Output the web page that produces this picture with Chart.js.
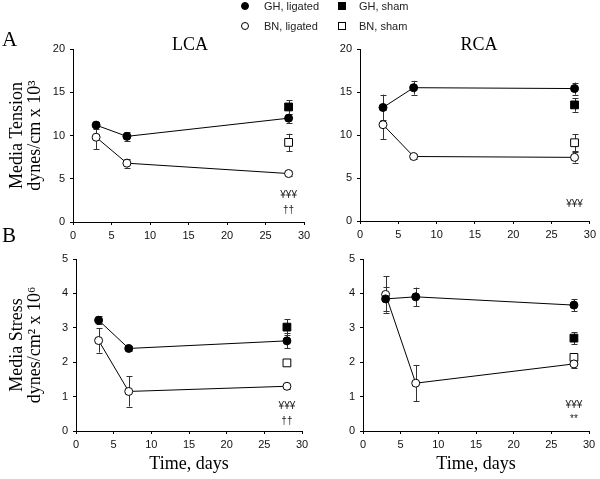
<!DOCTYPE html>
<html>
<head>
<meta charset="utf-8">
<script src="https://cdn.jsdelivr.net/npm/chart.js@4.4.1/dist/chart.umd.min.js"></script>
<style>
  body { margin: 0; background: #fff; }
  #wrap { position: relative; width: 600px; height: 479px; overflow: hidden; }
  #wrap canvas { position: absolute; left: 0; top: 0; }
  .serif { position: absolute; font-family: "Liberation Serif", "Times New Roman", serif; color: #000; line-height: 1; white-space: nowrap; }
  .leg { position: absolute; font-family: "Liberation Sans", Arial, sans-serif; font-size: 11px; color: #222; line-height: 1; white-space: nowrap; }
  .mk { position: absolute; box-sizing: border-box; border: 1px solid #000; }
</style>
</head>
<body>
<div id="wrap">
  <canvas id="aLca" width="600" height="479"></canvas>
  <canvas id="aRca" width="600" height="479"></canvas>
  <canvas id="bLca" width="600" height="479"></canvas>
  <canvas id="bRca" width="600" height="479"></canvas>

  <div class="serif" style="left:2px;top:29px;font-size:21px;">A</div>
  <div class="serif" style="left:2px;top:225px;font-size:21px;">B</div>
  <div class="serif" style="left:172px;top:35px;font-size:18px;width:36px;text-align:center;">LCA</div>
  <div class="serif" style="left:460px;top:35px;font-size:18px;width:38px;text-align:center;">RCA</div>

  <!-- legend -->
  <div class="mk" style="left:241px;top:2px;width:8px;height:8px;border-radius:50%;background:#000;"></div>
  <div class="leg" style="left:264px;top:1px;">GH, ligated</div>
  <div class="mk" style="left:338px;top:2px;width:8px;height:8px;background:#000;"></div>
  <div class="leg" style="left:359px;top:1px;">GH, sham</div>
  <div class="mk" style="left:241px;top:22px;width:8px;height:8px;border-radius:50%;background:#fff;"></div>
  <div class="leg" style="left:264px;top:21px;">BN, ligated</div>
  <div class="mk" style="left:338px;top:22px;width:8px;height:8px;background:#fff;"></div>
  <div class="leg" style="left:359px;top:21px;">BN, sham</div>
</div>

<script>
// time points (days)
const days = [3, 7, 28];
const shamDays = [28];
const xTicks = { min: 0, max: 30, step: 5 };

// A, LCA - media tension (dynes/cm x 10^3)
const lcaTensionGH = [11.2, 9.9, 12.0];
const lcaTensionGHErr = [0.4, 0.5, 0.5];
const lcaTensionBN = [9.8, 6.8, 5.6];
const lcaTensionBNErr = [1.4, 0.5, 0.3];
const lcaTensionGHSham = [13.3];
const lcaTensionGHShamErr = [0.8];
const lcaTensionBNSham = [9.2];
const lcaTensionBNShamErr = [1.0];

// A, RCA - media tension
const rcaTensionGH = [13.2, 15.5, 15.4];
const rcaTensionGHErr = [1.5, 0.8, 0.7];
const rcaTensionBN = [11.2, 7.5, 7.4];
const rcaTensionBNErr = [1.7, 0.3, 0.6];
const rcaTensionGHSham = [13.5];
const rcaTensionGHShamErr = [0.8];
const rcaTensionBNSham = [9.1];
const rcaTensionBNShamErr = [1.0];

// B, LCA - media stress (dynes/cm2 x 10^6)
const lcaStressGH = [3.22, 2.40, 2.62];
const lcaStressGHErr = [0.12, 0.06, 0.22];
const lcaStressBN = [2.63, 1.15, 1.30];
const lcaStressBNErr = [0.35, 0.44, 0.08];
const lcaStressGHSham = [3.02];
const lcaStressGHShamErr = [0.23];
const lcaStressBNSham = [1.98];
const lcaStressBNShamErr = [0.05];

// B, RCA - media stress
const rcaStressGH = [3.84, 3.90, 3.66];
const rcaStressGHErr = [0.35, 0.27, 0.17];
const rcaStressBN = [3.97, 1.39, 1.95];
const rcaStressBNErr = [0.53, 0.53, 0.12];
const rcaStressGHSham = [2.70];
const rcaStressGHShamErr = [0.17];
const rcaStressBNSham = [2.14];
const rcaStressBNShamErr = [0.10];

// significance marks at day 28
const lcaTensionNotes = [{ x: 28, y: 3.1, text: "¥¥¥" }, { x: 28, y: 1.4, text: "††" }];
const rcaTensionNotes = [{ x: 28, y: 1.9, text: "¥¥¥" }];
const lcaStressNotes = [{ x: 28, y: 0.73, text: "¥¥¥" }, { x: 28, y: 0.29, text: "††" }];
const rcaStressNotes = [{ x: 28, y: 0.75, text: "¥¥¥" }, { x: 28, y: 0.33, text: "**" }];

// error bars drawn behind the markers
const errorBars = {
  id: "errorBars",
  beforeDatasetsDraw(chart) {
    const ctx = chart.ctx, ys = chart.scales.y;
    ctx.save();
    ctx.strokeStyle = "#333";
    ctx.lineWidth = 1;
    chart.data.datasets.forEach((ds, di) => {
      const meta = chart.getDatasetMeta(di);
      (ds.errors || []).forEach((e, i) => {
        const pt = meta.data[i];
        const v = ds.data[i].y;
        const x = Math.round(pt.x) + 0.5;
        const top = ys.getPixelForValue(v + e), bot = ys.getPixelForValue(v - e);
        ctx.beginPath();
        ctx.moveTo(x, top); ctx.lineTo(x, bot);
        ctx.moveTo(x - 3, Math.round(top) + 0.5); ctx.lineTo(x + 3, Math.round(top) + 0.5);
        ctx.moveTo(x - 3, Math.round(bot) + 0.5); ctx.lineTo(x + 3, Math.round(bot) + 0.5);
        ctx.stroke();
      });
    });
    ctx.restore();
  }
};

const notesPlugin = {
  id: "notes",
  afterDatasetsDraw(chart, args, opts) {
    const ctx = chart.ctx;
    ctx.save();
    ctx.fillStyle = "#222";
    ctx.font = "10px 'Liberation Sans', Arial, sans-serif";
    ctx.textAlign = "center";
    ctx.textBaseline = "middle";
    (opts.items || []).forEach(n => {
      ctx.fillText(n.text, chart.scales.x.getPixelForValue(n.x), chart.scales.y.getPixelForValue(n.y));
    });
    ctx.restore();
  }
};

function series(label, xs, ys, errs, shape, fill, line) {
  return {
    label: label,
    data: xs.map((x, i) => ({ x: x, y: ys[i] })),
    errors: errs,
    showLine: line,
    borderColor: "#000",
    borderWidth: 1,
    tension: 0,
    fill: false,
    pointStyle: shape,
    pointRadius: shape === "rect" ? 5.5 : 4,
    pointBorderWidth: 1,
    pointBorderColor: "#000",
    pointBackgroundColor: fill
  };
}

function makePanel(id, area, yMax, yStep, yTitle, xTitle, datasets, notes) {
  const tickFont = { family: "'Liberation Sans', Arial, sans-serif", size: 11 };
  const titleFont = { family: "'Liberation Serif', 'Times New Roman', serif", size: 18, lineHeight: 1.0 };
  new Chart(document.getElementById(id), {
    type: "line",
    data: { datasets: datasets },
    options: {
      responsive: false,
      animation: false,
      devicePixelRatio: 1,
      events: [],
      layout: {
        padding: {
          left: area.left - area.yW,
          right: 600 - area.right,
          top: area.top,
          bottom: 479 - area.bottom - area.xH
        }
      },
      plugins: {
        legend: { display: false },
        tooltip: { enabled: false },
        notes: { items: notes }
      },
      scales: {
        x: {
          type: "linear",
          min: xTicks.min,
          max: xTicks.max,
          afterFit: s => { s.height = area.xH; },
          ticks: { stepSize: xTicks.step, font: tickFont, color: "#111", padding: 4, maxRotation: 0 },
          grid: { drawOnChartArea: false, drawTicks: true, tickLength: 3, color: "#000" },
          border: { color: "#000", width: 1 },
          title: xTitle
            ? { display: true, text: xTitle, font: { family: titleFont.family, size: 18, lineHeight: 1.1 }, color: "#000", padding: { top: 0, bottom: 2 } }
            : { display: false }
        },
        y: {
          type: "linear",
          min: 0,
          max: yMax,
          afterFit: s => { s.width = area.yW; },
          ticks: { stepSize: yStep, font: tickFont, color: "#111", padding: 5 },
          grid: { drawOnChartArea: false, drawTicks: true, tickLength: 3, color: "#000" },
          border: { color: "#000", width: 1 },
          title: yTitle
            ? { display: true, text: yTitle, font: titleFont, color: "#000", padding: { top: 8, bottom: 0 } }
            : { display: false }
        }
      }
    },
    plugins: [errorBars, notesPlugin]
  });
}

function panelSets(gh, ghErr, bn, bnErr, ghSham, ghShamErr, bnSham, bnShamErr) {
  return [
    series("GH, ligated", days, gh, ghErr, "circle", "#000", true),
    series("BN, ligated", days, bn, bnErr, "circle", "#fff", true),
    series("GH, sham", shamDays, ghSham, ghShamErr, "rect", "#000", false),
    series("BN, sham", shamDays, bnSham, bnShamErr, "rect", "#fff", false)
  ];
}

makePanel("aLca", { left: 73, right: 304, top: 49, bottom: 222, yW: 73, xH: 20 }, 20, 5,
  ["Media Tension", "dynes/cm x 10³"], null,
  panelSets(lcaTensionGH, lcaTensionGHErr, lcaTensionBN, lcaTensionBNErr,
            lcaTensionGHSham, lcaTensionGHShamErr, lcaTensionBNSham, lcaTensionBNShamErr),
  lcaTensionNotes);

makePanel("aRca", { left: 360, right: 592, top: 49, bottom: 221, yW: 40, xH: 20 }, 20, 5,
  null, null,
  panelSets(rcaTensionGH, rcaTensionGHErr, rcaTensionBN, rcaTensionBNErr,
            rcaTensionGHSham, rcaTensionGHShamErr, rcaTensionBNSham, rcaTensionBNShamErr),
  rcaTensionNotes);

makePanel("bLca", { left: 76, right: 302, top: 259, bottom: 431, yW: 76, xH: 45 }, 5, 1,
  ["Media Stress", "dynes/cm² x 10⁶"], "Time, days",
  panelSets(lcaStressGH, lcaStressGHErr, lcaStressBN, lcaStressBNErr,
            lcaStressGHSham, lcaStressGHShamErr, lcaStressBNSham, lcaStressBNShamErr),
  lcaStressNotes);

makePanel("bRca", { left: 363, right: 589, top: 259, bottom: 431, yW: 40, xH: 45 }, 5, 1,
  null, "Time, days",
  panelSets(rcaStressGH, rcaStressGHErr, rcaStressBN, rcaStressBNErr,
            rcaStressGHSham, rcaStressGHShamErr, rcaStressBNSham, rcaStressBNShamErr),
  rcaStressNotes);
</script>
</body>
</html>
